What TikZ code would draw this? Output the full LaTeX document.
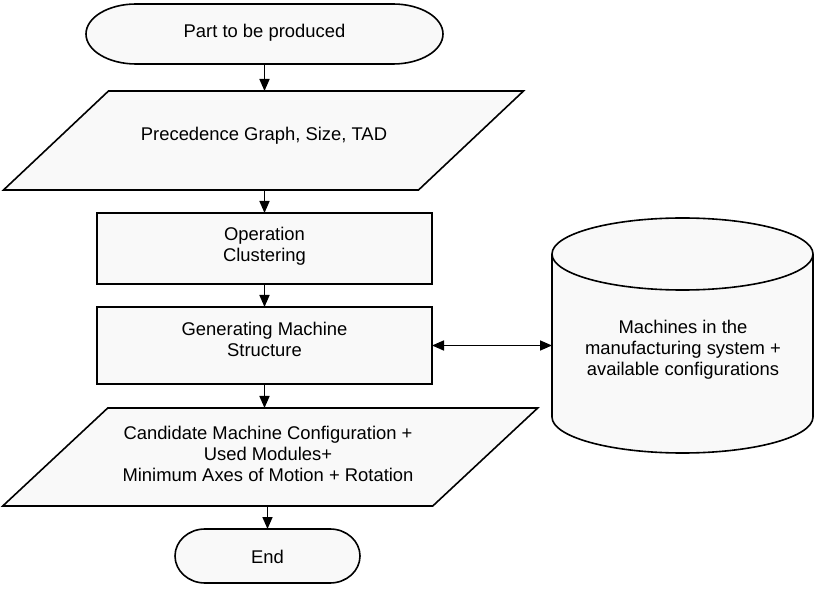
\documentclass[tikz,border=0pt]{standalone}
\usepackage{fontspec}
\setmainfont{Liberation Sans}
\usetikzlibrary{arrows.meta}
\definecolor{boxfill}{RGB}{249,249,249}
\begin{document}
\begin{tikzpicture}[x=1pt,y=-1pt,
  every node/.style={font=\fontsize{18.4}{21}\selectfont},
  frame/.style={draw=black, line width=1.6pt, fill=boxfill},
  holder/.style={inner sep=0pt, outer sep=0pt},
  txt/.style={align=center, inner sep=0pt},
  conn/.style={draw=black, line width=1.6pt, -{Triangle[length=12pt,width=10pt]}},
  biconn/.style={draw=black, line width=1.6pt, {Triangle[length=12pt,width=10pt]}-{Triangle[length=12pt,width=10pt]}}
]
\useasboundingbox (0,0) rectangle (814,593);
\fill[white] (0,0) rectangle (814,593);

% Start terminator
\node[holder, minimum width=357pt, minimum height=60pt] (t1) at (264.5,34) {};
\draw[frame] ([xshift=50pt]t1.north west) -- ([xshift=-50pt]t1.north east)
  arc[start angle=90, end angle=-90, x radius=50pt, y radius=30pt]
  -- ([xshift=50pt]t1.south west)
  arc[start angle=270, end angle=90, x radius=50pt, y radius=30pt] -- cycle;
\node[txt] (t1text) at (264.5,33) {Part to be produced};

% Parallelogram 1
\node[holder, minimum width=415pt, minimum height=99pt] (p1) at (263.5,140.5) {};
\draw[frame] ([xshift=52.5pt]p1.north west) -- ([xshift=52.5pt]p1.north east)
  -- ([xshift=-52.5pt]p1.south east) -- ([xshift=-52.5pt]p1.south west) -- cycle;
\node[txt] (p1text) at (264,136) {Precedence Graph, Size, TAD};

% Operation Clustering
\node[draw=black, line width=2.6pt, fill=boxfill, holder, minimum width=335pt, minimum height=71pt] (r1) at (264.5,248.5) {};
\node[txt] (r1text) at (264.5,246) {Operation\\Clustering};

% Generating Machine Structure
\node[frame, holder, minimum width=335pt, minimum height=77pt] (r2) at (264.5,345.5) {};
\node[txt] (r2text) at (264.5,339.5) {Generating Machine\\Structure};

% Parallelogram 2
\node[holder, minimum width=430pt, minimum height=98pt] (p2) at (270.25,457) {};
\draw[frame] ([xshift=52.5pt]p2.north west) -- ([xshift=52.5pt]p2.north east)
  -- ([xshift=-52.5pt]p2.south east) -- ([xshift=-52.5pt]p2.south west) -- cycle;
\node[txt] (p2text) at (268,454) {Candidate Machine Configuration +\\Used Modules+\\Minimum Axes of Motion + Rotation};

% End terminator
\node[holder, minimum width=185pt, minimum height=54pt] (e) at (267.5,556) {};
\draw[frame] ([xshift=30pt]e.north west) -- ([xshift=-30pt]e.north east)
  arc[start angle=90, end angle=-90, x radius=30pt, y radius=27pt]
  -- ([xshift=30pt]e.south west)
  arc[start angle=270, end angle=90, x radius=30pt, y radius=27pt] -- cycle;
\node[txt] (etext) at (267.5,557) {End};

% Database cylinder
\node[holder, minimum width=261pt, minimum height=235pt] (db) at (682.5,335.5) {};
\fill[boxfill] (552,254) -- (552,417)
  arc[start angle=180, end angle=360, x radius=130.5pt, y radius=36pt]
  -- (813,254)
  arc[start angle=0, end angle=180, x radius=130.5pt, y radius=36pt] -- cycle;
\draw[line width=1.6pt] (552,254) -- (552,417)
  arc[start angle=180, end angle=360, x radius=130.5pt, y radius=36pt]
  -- (813,254)
  arc[start angle=0, end angle=180, x radius=130.5pt, y radius=36pt]
  arc[start angle=180, end angle=360, x radius=130.5pt, y radius=36pt];
\node[txt] (dbtext) at (683,350) {Machines in the\\manufacturing system +\\available configurations};

% Connectors
\draw[conn] (t1.south) -- (t1.south |- p1.north);
\draw[conn] (p1.south -| r1.north) -- (r1.north);
\draw[conn] (r1.south) -- (r2.north);
\draw[conn] (r2.south) -- (r2.south |- p2.north);
\draw[conn] (e.north |- p2.south) -- (e.north);
\draw[biconn] (r2.east) -- (r2.east -| db.west);
\end{tikzpicture}
\end{document}
